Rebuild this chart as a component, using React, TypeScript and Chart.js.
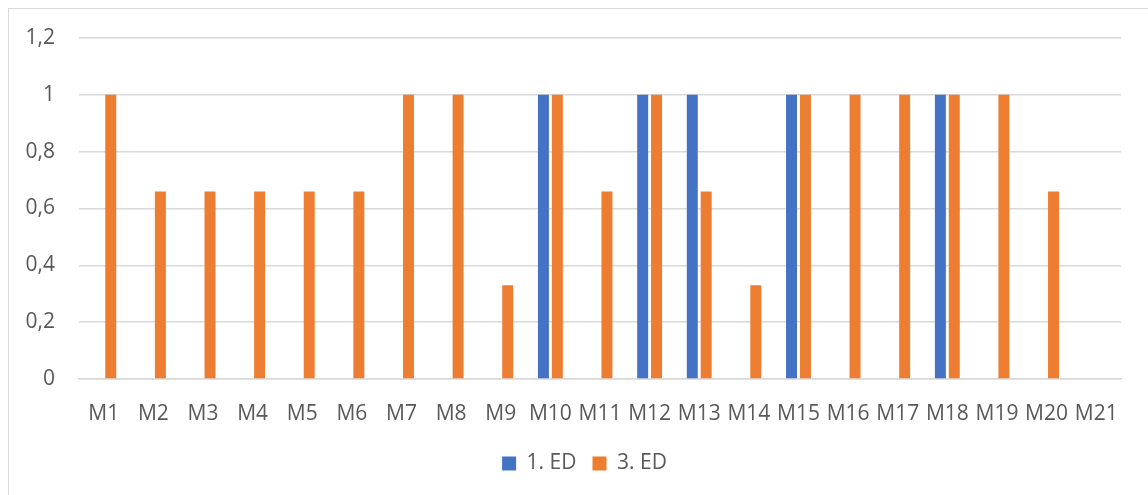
import React, { useEffect, useRef } from "react";
import { Chart, registerables } from "chart.js";

Chart.register(...registerables);

const categories = ["M1","M2","M3","M4","M5","M6","M7","M8","M9","M10","M11","M12","M13","M14","M15","M16","M17","M18","M19","M20","M21"];
const ed1 = [0,0,0,0,0,0,0,0,0,1,0,1,1,0,1,0,0,1,0,0,0];
const ed3 = [1,0.66,0.66,0.66,0.66,0.66,1,1,0.33,1,0.66,1,0.66,0.33,1,1,1,1,1,0.66,0];
const yTicks = [0, 0.2, 0.4, 0.6, 0.8, 1, 1.2];

const FONT = "'Open Sans', sans-serif";
const TEXT = "#595959";
const GRID = "#d9d9d9";

// Center the legend under the whole frame rather than the padded layout box.
const legendShift = {
  id: "legendShift",
  afterLayout(chart: any) {
    const lg = chart.legend;
    if (!lg) return;
    const dx = 20;
    lg.left += dx;
    lg.right += dx;
  },
};

export default function App() {
  const ref = useRef<HTMLCanvasElement>(null);

  useEffect(() => {
    const ctx = ref.current!;
    const chart = new Chart(ctx, {
      type: "bar",
      data: {
        labels: categories,
        datasets: [
          { label: "1. ED", data: ed1, backgroundColor: "#4472C4", categoryPercentage: 0.56, barPercentage: 0.79 },
          { label: "3. ED", data: ed3, backgroundColor: "#ED7D31", categoryPercentage: 0.56, barPercentage: 0.79 },
        ],
      },
      plugins: [legendShift],
      options: {
        animation: false,
        responsive: false,
        maintainAspectRatio: false,
        layout: { padding: { left: 8, right: 27, top: 38, bottom: 11 } },
        plugins: {
          legend: {
            position: "bottom",
            labels: {
              boxWidth: 14,
              boxHeight: 14,
              padding: 16,
              color: TEXT,
              font: { family: FONT, size: 21 },
            },
          },
          tooltip: { enabled: false },
        },
        scales: {
          x: {
            grid: { display: false },
            border: { color: GRID, width: 1.5 },
            ticks: {
              color: TEXT,
              font: { family: FONT, size: 21 },
              autoSkip: false,
              maxRotation: 0,
              minRotation: 0,
              padding: 14,
            },
            afterFit: (s: any) => { s.height = 58; },
          },
          y: {
            min: 0,
            max: 1.2,
            afterBuildTicks: (s: any) => { s.ticks = yTicks.map((v) => ({ value: v })); },
            grid: { color: GRID, lineWidth: 1.5, drawTicks: false },
            border: { display: false },
            ticks: {
              color: TEXT,
              font: { family: FONT, size: 21 },
              padding: 24,
              callback: (v: any) => String(Math.round(Number(v) * 10) / 10).replace(".", ","),
            },
            afterFit: (s: any) => { s.width = 71; },
          },
        },
      },
    });
    return () => chart.destroy();
  }, []);

  return (
    <div style={{ position: "fixed", left: 0, top: 0, width: 1148, height: 495, background: "#fff" }}>
      <div
        style={{
          position: "absolute",
          left: 8,
          top: 8,
          width: 1160,
          height: 500,
          borderLeft: "1.5px solid " + GRID,
          borderTop: "1.5px solid " + GRID,
        }}
      />
      <canvas ref={ref} width={1148} height={495} style={{ position: "absolute", left: 0, top: 0 }} />
    </div>
  );
}
